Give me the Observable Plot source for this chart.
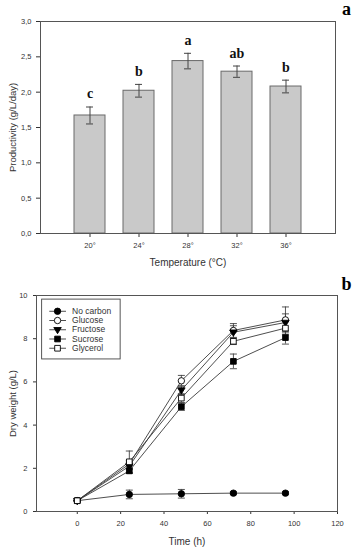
<!DOCTYPE html>
<html><head><meta charset="utf-8">
<script src="https://cdn.jsdelivr.net/npm/d3@7"></script>
<script src="https://cdn.jsdelivr.net/npm/@observablehq/plot@0.6"></script>
<style>
body{margin:0;background:#fff;}
#chart{width:358px;height:550px;position:relative;}
#chart svg{display:block;}
</style></head><body><div id="chart"></div>
<script>
// ---------- Panel a data ----------
const temps = ["20°","24°","28°","32°","36°"];
const productivity = [1.67, 2.02, 2.44, 2.29, 2.08];
const productivityErr = [0.12, 0.09, 0.11, 0.08, 0.09];
const letters = ["c","b","a","ab","b"];
const yTicksA = [0, 0.5, 1, 1.5, 2, 2.5, 3];

// ---------- Panel b data ----------
const times = [0, 24, 48, 72, 96];
const seriesNames = ["No carbon","Glucose","Fructose","Sucrose","Glycerol"];
const noCarbon    = [0.5, 0.79, 0.82, 0.85, 0.85];
const noCarbonErr = [0.02, 0.2, 0.2, 0.07, 0.07];
const glucose     = [0.5, 2.2, 6.05, 8.38, 8.87];
const glucoseErr  = [0.02, 0.15, 0.25, 0.32, 0.6];
const fructose    = [0.5, 2.1, 5.62, 8.3, 8.75];
const fructoseErr = [0.02, 0.15, 0.2, 0.3, 0.4];
const sucrose     = [0.5, 1.88, 4.85, 6.95, 8.05];
const sucroseErr  = [0.02, 0.12, 0.17, 0.34, 0.3];
const glycerol    = [0.5, 2.3, 5.25, 7.88, 8.49];
const glycerolErr = [0.02, 0.5, 0.2, 0.15, 0.3];
const xTicksB = [0, 20, 40, 60, 80, 100, 120];
const yTicksB = [0, 2, 4, 6, 8, 10];

const FONT = "Liberation Sans, Arial, sans-serif";
const SERIF = "Liberation Serif, Times New Roman, serif";
const INK = "#333";

// custom symbols
const triDown = {draw(ctx, size){const s = Math.sqrt(size)*0.62; ctx.moveTo(-s, -s*0.6); ctx.lineTo(s, -s*0.6); ctx.lineTo(0, s*1.05); ctx.closePath();}};
const cap = {draw(ctx){ctx.moveTo(-3.5, 0); ctx.lineTo(3.5, 0);}};

// ---------- Panel a ----------
const dataA = temps.map((t, i) => ({t, v: productivity[i], lo: productivity[i]-productivityErr[i], hi: productivity[i]+productivityErr[i], letter: letters[i]}));

const plotA = Plot.plot({
  width: 358, height: 275,
  marginLeft: 40, marginRight: 23, marginTop: 21, marginBottom: 42,
  style: {fontFamily: FONT, fontSize: "7.5px", color: INK, background: "#fff"},
  x: {domain: temps, paddingInner: 0.37, paddingOuter: 0.685, label: null, tickSize: 4},
  y: {domain: [0, 3], ticks: yTicksA, tickFormat: d => d.toFixed(1).replace(".", ","), label: null, tickSize: 4},
  marks: [
    Plot.barY(dataA, {x: "t", y: "v", fill: "#c9c9c9", stroke: "#6a6a6a", strokeWidth: 1}),
    Plot.ruleX(dataA, {x: "t", y1: "lo", y2: "hi", stroke: "#444", strokeWidth: 1}),
    Plot.tickY(dataA, {x: "t", y: "hi", insetLeft: 12, insetRight: 12, stroke: "#444"}),
    Plot.tickY(dataA, {x: "t", y: "lo", insetLeft: 12, insetRight: 12, stroke: "#444"}),
    Plot.text(dataA, {x: "t", y: "hi", text: "letter", dy: -13, fontFamily: SERIF, fontWeight: "bold", fontSize: 14, fill: "#111"}),
    Plot.frame({stroke: "#555"}),
    Plot.text(["Temperature (°C)"], {frameAnchor: "bottom", lineAnchor: "middle", dy: 29, fontSize: 10, fill: INK}),
    Plot.text(["Productivity (g/L/day)"], {frameAnchor: "left", lineAnchor: "middle", textAnchor: "middle", rotate: -90, dx: -28, fontSize: 9.5, fill: INK}),
    Plot.text(["a"], {frameAnchor: "top-right", textAnchor: "middle", lineAnchor: "middle", dx: 11, dy: -12, fontFamily: SERIF, fontWeight: "bold", fontSize: 18, fill: "#000"})
  ]
});

// ---------- Panel b ----------
const seriesVals = [noCarbon, glucose, fructose, sucrose, glycerol];
const seriesErrs = [noCarbonErr, glucoseErr, fructoseErr, sucroseErr, glycerolErr];
const seriesSymbol = ["circle", "circle", triDown, "square", "square"];
const seriesFill = ["#000", "#fff", "#000", "#000", "#fff"];
const seriesR = [3.2, 3.2, 3.4, 3.2, 3.2];

const rowsB = seriesNames.flatMap((name, s) => times.map((t, i) => ({
  name, t, v: seriesVals[s][i], lo: seriesVals[s][i]-seriesErrs[s][i], hi: seriesVals[s][i]+seriesErrs[s][i]
})));

// legend rows (placed in data units within the plot's upper-left)
const legendRows = seriesNames.map((name, i) => ({name, y: 9.27 - i*0.428}));

const marksB = [
  Plot.ruleX(rowsB, {x: "t", y1: "lo", y2: "hi", stroke: "#444", strokeWidth: 0.9}),
  Plot.dot(rowsB, {x: "t", y: "hi", symbol: cap, stroke: "#444", strokeWidth: 0.9, r: 3}),
  Plot.dot(rowsB, {x: "t", y: "lo", symbol: cap, stroke: "#444", strokeWidth: 0.9, r: 3}),
  Plot.line(rowsB, {x: "t", y: "v", z: "name", stroke: "#3a3a3a", strokeWidth: 0.9})
];
seriesNames.forEach((name, s) => {
  marksB.push(Plot.dot(rowsB.filter(d => d.name === name), {x: "t", y: "v", symbol: seriesSymbol[s], r: seriesR[s], fill: seriesFill[s], stroke: "#000", strokeWidth: 0.9}));
});
// legend
marksB.push(Plot.rect([0], {x1: -16.2, x2: 20, y1: 7.04, y2: 9.81, fill: "#fff", stroke: "#444", strokeWidth: 0.9}));
marksB.push(Plot.link(legendRows, {x1: -12.9, x2: -5.2, y1: "y", y2: "y", stroke: "#3a3a3a", strokeWidth: 0.9}));
seriesNames.forEach((name, s) => {
  marksB.push(Plot.dot([legendRows[s]], {x: -9.1, y: "y", symbol: seriesSymbol[s], r: seriesR[s], fill: seriesFill[s], stroke: "#000", strokeWidth: 0.9}));
});
marksB.push(Plot.text(legendRows, {x: -2.4, y: "y", text: "name", textAnchor: "start", fontSize: 8.5, fill: INK}));
marksB.push(Plot.frame({stroke: "#555"}));
marksB.push(Plot.text(["Time (h)"], {frameAnchor: "bottom", lineAnchor: "middle", dy: 30, fontSize: 10, fill: INK}));
marksB.push(Plot.text(["Dry weight (g/L)"], {frameAnchor: "left", lineAnchor: "middle", textAnchor: "middle", rotate: -90, dx: -24, fontSize: 9.5, fill: INK}));
marksB.push(Plot.text(["b"], {frameAnchor: "top-right", textAnchor: "middle", lineAnchor: "middle", dx: 9, dy: -11, fontFamily: SERIF, fontWeight: "bold", fontSize: 18, fill: "#000"}));

const plotB = Plot.plot({
  width: 358, height: 275,
  marginLeft: 36, marginRight: 21, marginTop: 20, marginBottom: 39,
  style: {fontFamily: FONT, fontSize: "7.5px", color: INK, background: "#fff"},
  x: {domain: [-18.8, 120], ticks: xTicksB, label: null, tickSize: 3},
  y: {domain: [0, 10], ticks: yTicksB, label: null, tickSize: 3},
  marks: marksB
});

const root = document.getElementById("chart");
root.appendChild(plotA);
root.appendChild(plotB);
</script></body></html>
